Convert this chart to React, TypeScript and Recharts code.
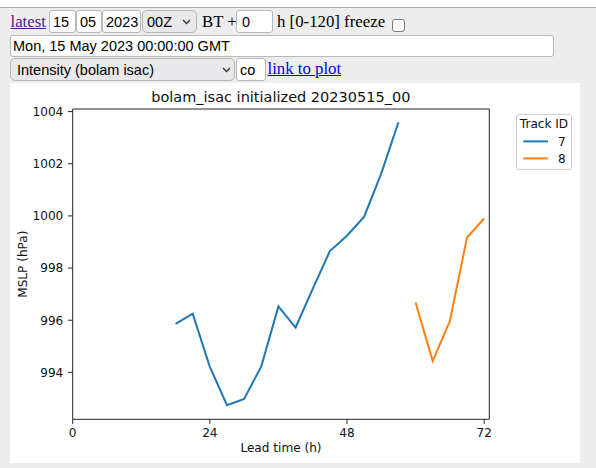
import { LineChart, Line, XAxis, YAxis, Legend, ReferenceArea } from "recharts";

const track7Hours = [18, 21, 24, 27, 30, 33, 36, 39, 42, 45, 48, 51, 54, 57];
const track7Mslp = [995.86, 996.25, 994.21, 992.74, 992.98, 994.23, 996.53, 995.72, 997.2, 998.65, 999.24, 999.97, 1001.63, 1003.59];
const track8Hours = [60, 63, 66, 69, 72];
const track8Mslp = [996.68, 994.43, 995.97, 999.17, 999.9];

const xTicks = [0, 24, 48, 72];
const yTicks = [994, 996, 998, 1000, 1002, 1004];
const xDomain = [0, 72.9];
const yDomain = [992.2, 1004.1];

const track7 = track7Hours.map((h, i) => ({ h, mslp: track7Mslp[i] }));
const track8 = track8Hours.map((h, i) => ({ h, mslp: track8Mslp[i] }));

const sans = '"Liberation Sans", Arial, sans-serif';
const serif = '"Liberation Serif", "Times New Roman", serif';
const mpl = '"DejaVu Sans", sans-serif';
const fs = 12.1;

const inputBase: any = {
  position: "absolute",
  boxSizing: "border-box",
  border: "1px solid #b9b9b9",
  borderRadius: 3,
  background: "#fff",
  font: `14.5px ${sans}`,
  color: "#000",
  padding: "1px 0 0 3px",
  margin: 0,
  outline: "none",
};

const selectBase: any = {
  ...inputBase,
  appearance: "none",
  WebkitAppearance: "none",
  background: "#e9e9ec",
  borderRadius: 5,
  border: "1px solid #b5b5b5",
};

const serifText: any = {
  position: "absolute",
  font: `16.8px ${serif}`,
  color: "#000",
  whiteSpace: "pre",
};

function Chevron({ x, y }: any) {
  return (
    <svg style={{ position: "absolute", left: x, top: y }} width={9} height={6}>
      <polyline points="1,1 4.5,4.5 8,1" fill="none" stroke="#333" strokeWidth={1.3} />
    </svg>
  );
}

function TrackLegend({ payload }: any) {
  return (
    <svg width={56} height={56}>
      <rect x={0.5} y={0.5} width={55} height={55} rx={2.5} fill="#fff" stroke="#d0d0d0" />
      <text x={28} y={13.7} textAnchor="middle" fontSize={fs} fontFamily={mpl} fill="#111">
        Track ID
      </text>
      {(payload || []).map((p: any, i: number) => (
        <g key={p.value}>
          <line x1={7.3} x2={32} y1={27.4 + i * 17} y2={27.4 + i * 17} stroke={p.color} strokeWidth={2} />
          <text x={42} y={31.6 + i * 17} fontSize={fs} fontFamily={mpl} fill="#111">
            {p.value}
          </text>
        </g>
      ))}
    </svg>
  );
}

export default function App() {
  const tickStyle = { fontSize: fs, fill: "#111", fontFamily: mpl };
  return (
    <div style={{ position: "absolute", left: 0, top: 0, width: 596, height: 468, background: "#fff", overflow: "hidden" }}>
      <div
        style={{
          position: "absolute",
          left: 0,
          top: 7,
          width: 596,
          height: 461,
          background: "#ededed",
          borderTop: "1px solid #a9a9a9",
          boxSizing: "border-box",
        }}
      />

      <a style={{ ...serifText, left: 10.5, top: 10, height: 23, lineHeight: "23px", color: "#551a8b", textDecoration: "underline" }}>latest</a>
      <input readOnly defaultValue="15" style={{ ...inputBase, left: 49, top: 9.5, width: 27, height: 23 }} />
      <input readOnly defaultValue="05" style={{ ...inputBase, left: 76, top: 9.5, width: 26, height: 23 }} />
      <input readOnly defaultValue="2023" style={{ ...inputBase, left: 102, top: 9.5, width: 39, height: 23 }} />
      <select defaultValue="00Z" style={{ ...selectBase, left: 142, top: 9.5, width: 55, height: 23, paddingLeft: 4 }}>
        <option>00Z</option>
      </select>
      <Chevron x={181.5} y={18.5} />
      <div style={{ ...serifText, left: 202, top: 10, height: 23, lineHeight: "23px" }}>BT +</div>
      <input readOnly defaultValue="0" style={{ ...inputBase, left: 236, top: 9.5, width: 37, height: 23, paddingLeft: 5 }} />
      <div style={{ ...serifText, left: 277, top: 10, height: 23, lineHeight: "23px" }}>h [0-120] freeze</div>
      <div
        style={{
          position: "absolute",
          left: 392,
          top: 18.5,
          width: 13,
          height: 13,
          boxSizing: "border-box",
          border: "1px solid #7a7a7a",
          borderRadius: 3,
          background: "#fff",
        }}
      />

      <input
        readOnly
        defaultValue="Mon, 15 May 2023 00:00:00 GMT"
        style={{ ...inputBase, left: 10, top: 34.5, width: 543.5, height: 22.5, paddingLeft: 2 }}
      />

      <select defaultValue="i" style={{ ...selectBase, left: 10, top: 58, width: 225, height: 22.5, paddingLeft: 6 }}>
        <option value="i">Intensity (bolam isac)</option>
      </select>
      <Chevron x={221.5} y={66.5} />
      <input readOnly defaultValue="co" style={{ ...inputBase, left: 236, top: 58, width: 30, height: 22.5 }} />
      <a style={{ ...serifText, left: 267.5, top: 58, height: 22.5, lineHeight: "22.5px", color: "#0000ee", textDecoration: "underline" }}>
        link to plot
      </a>

      <div style={{ position: "absolute", left: 10, top: 83, width: 570, height: 380, background: "#fff" }}>
        <LineChart width={570} height={380} margin={{ top: 26, right: 90.7, bottom: 0, left: 0 }}>
          <text x={270.8} y={19} textAnchor="middle" fontSize={14.5} fontFamily={mpl} fill="#111">
            bolam_isac initialized 20230515_00
          </text>
          <XAxis
            type="number"
            dataKey="h"
            domain={xDomain}
            ticks={xTicks}
            allowDataOverflow
            height={43.7}
            axisLine={false}
            tickSize={4.6}
            tickMargin={5}
            tickLine={{ stroke: "#222", strokeWidth: 1 }}
            tick={tickStyle}
            label={{ value: "Lead time (h)", position: "insideBottom", offset: 11, fontSize: fs, fontFamily: mpl, fill: "#111" }}
          />
          <YAxis
            type="number"
            domain={yDomain}
            ticks={yTicks}
            allowDataOverflow
            width={62.7}
            axisLine={false}
            tickSize={4.6}
            tickMargin={4.8}
            tickLine={{ stroke: "#222", strokeWidth: 1 }}
            tick={tickStyle}
            label={{
              value: "MSLP (hPa)",
              angle: -90,
              position: "insideLeft",
              offset: 12.7,
              fontSize: fs,
              fontFamily: mpl,
              fill: "#111",
              style: { textAnchor: "middle" },
            }}
          />
          <ReferenceArea x1={xDomain[0]} x2={xDomain[1]} y1={yDomain[0]} y2={yDomain[1]} fill="none" stroke="#222" strokeWidth={1} />
          <Line
            name="7"
            data={track7}
            dataKey="mslp"
            type="linear"
            stroke="#1f77b4"
            strokeWidth={2}
            dot={false}
            isAnimationActive={false}
          />
          <Line
            name="8"
            data={track8}
            dataKey="mslp"
            type="linear"
            stroke="#ff7f0e"
            strokeWidth={2}
            dot={false}
            isAnimationActive={false}
          />
          <Legend
            layout="vertical"
            align="center"
            verticalAlign="middle"
            content={<TrackLegend />}
            wrapperStyle={{ left: 506, top: 31, width: 56, height: 56 }}
          />
        </LineChart>
      </div>
    </div>
  );
}
